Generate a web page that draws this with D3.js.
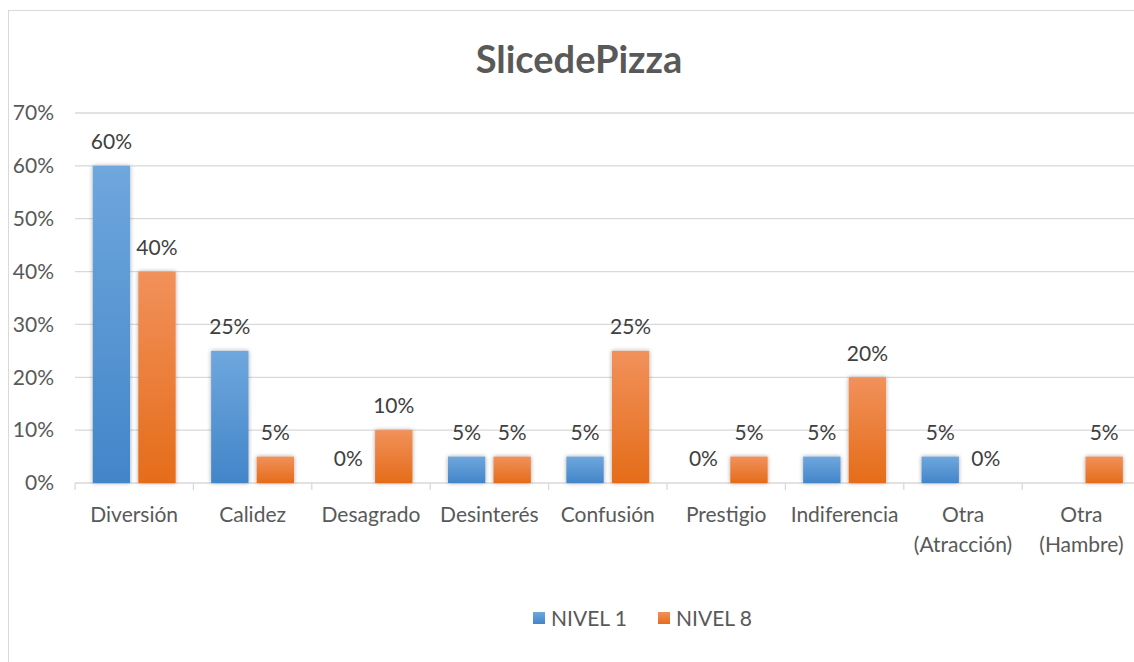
<!DOCTYPE html>
<html>
<head>
<meta charset="utf-8">
<script src="https://cdn.jsdelivr.net/npm/d3@7"></script>
<style>
  body { margin: 0; background: #fff; }
  text { font-family: Lato, "Open Sans", sans-serif; }
</style>
</head>
<body>
<div id="chart"></div>
<script>
const categories = ["Diversión", "Calidez", "Desagrado", "Desinterés", "Confusión", "Prestigio", "Indiferencia", "Otra\n(Atracción)", "Otra\n(Hambre)"];
const series = ["NIVEL 1", "NIVEL 8"];
const nivel1 = [0.60, 0.25, 0, 0.05, 0.05, 0, 0.05, 0.05, null];
const nivel8 = [0.40, 0.05, 0.10, 0.05, 0.25, 0.05, 0.20, 0, 0.05];
const yTicks = [0, 0.1, 0.2, 0.3, 0.4, 0.5, 0.6, 0.7];

const width = 1134, height = 662;
const colors = { "NIVEL 1": ["#6fa7dd", "#4285c9"], "NIVEL 8": ["#f1915b", "#e56c19"] };

const svg = d3.select("#chart").append("svg").attr("width", width).attr("height", height);
const defs = svg.append("defs");

series.forEach((s, i) => {
	const g = defs.append("linearGradient").attr("id", "grad" + i)
		.attr("x1", 0).attr("y1", 0).attr("x2", 0).attr("y2", 1);
	g.append("stop").attr("offset", "0%").attr("stop-color", colors[s][0]);
	g.append("stop").attr("offset", "100%").attr("stop-color", colors[s][1]);
});

const shadow = defs.append("filter").attr("id", "shadow")
	.attr("x", "-30%").attr("y", "-10%").attr("width", "160%").attr("height", "130%");
shadow.append("feDropShadow").attr("dx", 0).attr("dy", 0).attr("stdDeviation", 2)
	.attr("flood-color", "#000").attr("flood-opacity", 0.35);

// chart frame
svg.append("rect").attr("x", 8.5).attr("y", 10.5).attr("width", 1140).attr("height", 660)
	.attr("fill", "#fff").attr("stroke", "#d9d9d9");

const plotLeft = 75, plotRight = 75 + 9 * 118.4, plotTop = 113, plotBottom = 483;

const x = d3.scaleBand().domain(categories).range([plotLeft, plotRight]).paddingInner(0).paddingOuter(0);
const x1 = d3.scaleBand().domain(series).range([0, x.bandwidth()]).paddingInner(0.18).paddingOuter(0.39);
const y = d3.scaleLinear().domain([0, 0.7]).range([plotBottom, plotTop]);

// title
svg.append("text").attr("x", 579).attr("y", 73).attr("text-anchor", "middle")
	.attr("font-size", 38).attr("font-weight", "bold").attr("fill", "#595959")
	.text("SlicedePizza");

// gridlines
svg.append("g").selectAll("line").data(yTicks.filter(d => d > 0)).join("line")
	.attr("x1", plotLeft).attr("x2", plotRight)
	.attr("y1", d => y(d)).attr("y2", d => y(d))
	.attr("stroke", "#d9d9d9").attr("stroke-width", 1.3);

// y axis labels
svg.append("g").selectAll("text").data(yTicks).join("text")
	.attr("x", 54).attr("y", d => y(d)).attr("dy", "0.35em")
	.attr("text-anchor", "end").attr("font-size", 21).attr("fill", "#595959")
	.text(d3.format(".0%"));

// x axis line and ticks
const xAxis = svg.append("g");
xAxis.append("line").attr("x1", plotLeft).attr("x2", plotRight).attr("y1", plotBottom).attr("y2", plotBottom)
	.attr("stroke", "#d9d9d9").attr("stroke-width", 1.3);
xAxis.selectAll(".tick").data(d3.range(categories.length + 1)).join("line")
	.attr("class", "tick")
	.attr("x1", i => plotLeft + i * x.bandwidth()).attr("x2", i => plotLeft + i * x.bandwidth())
	.attr("y1", plotBottom).attr("y2", plotBottom + 7)
	.attr("stroke", "#d9d9d9").attr("stroke-width", 1.3);

// category labels
xAxis.selectAll(".cat").data(categories).join("text")
	.attr("class", "cat")
	.attr("x", d => x(d) + x.bandwidth() / 2).attr("y", 522)
	.attr("text-anchor", "middle").attr("font-size", 21).attr("fill", "#595959")
	.each(function (d) {
		d.split("\n").forEach((line, i) => {
			d3.select(this).append("tspan")
				.attr("x", x(d) + x.bandwidth() / 2).attr("dy", i === 0 ? 0 : 30)
				.text(line);
		});
	});

// bars
const rows = [];
categories.forEach((c, i) => {
	rows.push({ cat: c, s: 0, name: series[0], v: nivel1[i] });
	rows.push({ cat: c, s: 1, name: series[1], v: nivel8[i] });
});

svg.append("g").selectAll("rect").data(rows.filter(d => d.v)).join("rect")
	.attr("x", d => x(d.cat) + x1(d.name)).attr("width", x1.bandwidth())
	.attr("y", d => y(d.v)).attr("height", d => plotBottom - y(d.v))
	.attr("fill", d => `url(#grad${d.s})`).attr("filter", "url(#shadow)");

// data labels
svg.append("g").selectAll("text").data(rows.filter(d => d.v !== null)).join("text")
	.attr("x", d => x(d.cat) + x1(d.name) + x1.bandwidth() / 2)
	.attr("y", d => y(d.v) - 24).attr("dy", "0.35em")
	.attr("text-anchor", "middle").attr("font-size", 21).attr("fill", "#404040")
	.text(d => d3.format(".0%")(d.v));

// legend
const legend = svg.append("g");
const legendX = [533, 658];
series.forEach((s, i) => {
	legend.append("rect").attr("x", legendX[i]).attr("y", 612).attr("width", 12).attr("height", 12)
		.attr("fill", `url(#grad${i})`);
	legend.append("text").attr("x", legendX[i] + 18).attr("y", 619).attr("dy", "0.35em")
		.attr("font-size", 21).attr("fill", "#595959").text(s);
});
</script>
</body>
</html>
